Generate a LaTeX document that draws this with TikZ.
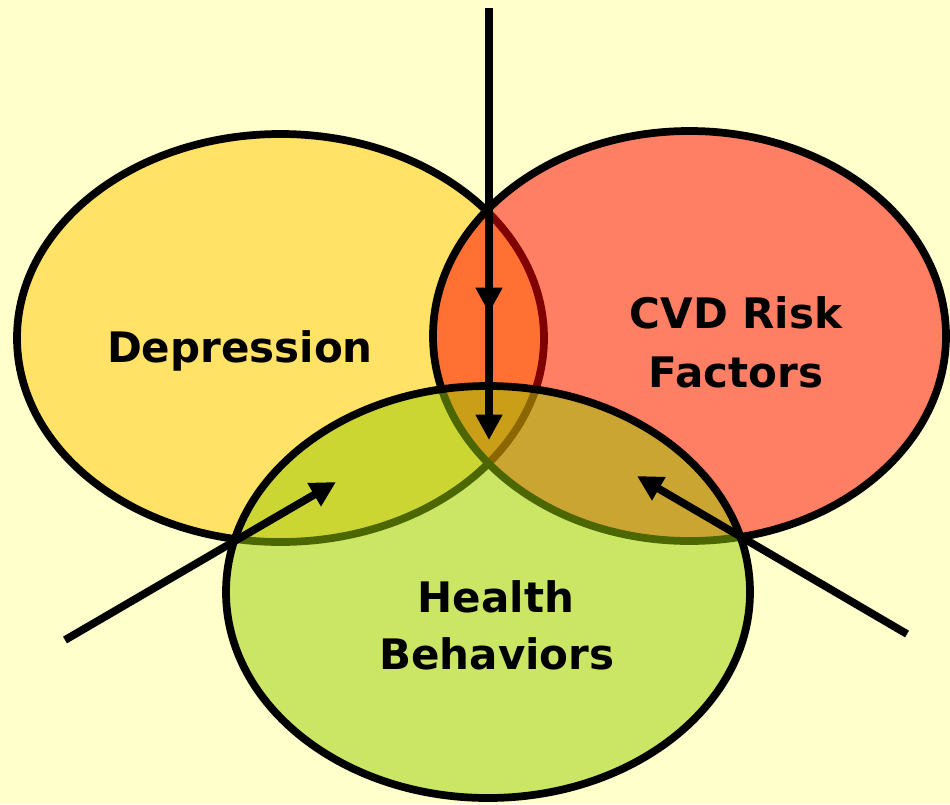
\documentclass[tikz,border=0pt]{standalone}
\usepackage{fontspec}
\setmainfont{DejaVu Sans}
\usetikzlibrary{shapes.geometric, arrows.meta}
\definecolor{bg}{RGB}{255,255,204}
\definecolor{depfill}{RGB}{255,226,102}
\definecolor{cvdfill}{RGB}{255,0,0}
\definecolor{hbfill}{RGB}{153,204,0}
\begin{document}
\begin{tikzpicture}[x=0.75pt,y=-0.75pt,
  circ/.style={ellipse, draw=black, line width=5.8pt, inner sep=0pt, outer sep=0pt},
  lbl/.style={font=\fontsize{31.5}{36}\selectfont\bfseries, anchor=base, inner sep=0pt},
  arr/.style={line width=5.8pt, -{Triangle[length=19pt,width=19pt]}}
]
\fill[bg] (0,0) rectangle (950,804);
\useasboundingbox (0,0) rectangle (950,804);

\node[circ, fill=depfill, minimum width=395.25pt, minimum height=306pt] (dep) at (280.5,338) {};
\node[circ, fill=cvdfill, fill opacity=0.5, minimum width=384.75pt, minimum height=307.5pt] (cvd) at (689.5,336) {};
\node[circ, fill=hbfill, fill opacity=0.5, minimum width=393pt, minimum height=309pt] (hb) at (488,592) {};

\coordinate (vtop) at (489,8);
\coordinate (vmid) at (489,313);
\coordinate (vtip) at (489,440);
\coordinate (ltail) at (65,640);
\coordinate (ltip) at (336,482);
\coordinate (rtail) at (907,634);
\coordinate (rtip) at (637,476);

\draw[arr] (vtop) -- (vtip);
\draw[arr] (vtop) -- (vmid);
\draw[arr] (ltail) -- (ltip);
\draw[arr] (rtail) -- (rtip);

\node[lbl] (tdep) at (240,362) {Depression};
\node[lbl] (tcvd1) at (736,328) {CVD Risk};
\node[lbl] (tcvd2) at (736,387) {Factors};
\node[lbl] (thb1) at (496,612) {Health};
\node[lbl] (thb2) at (497,669) {Behaviors};
\end{tikzpicture}
\end{document}
